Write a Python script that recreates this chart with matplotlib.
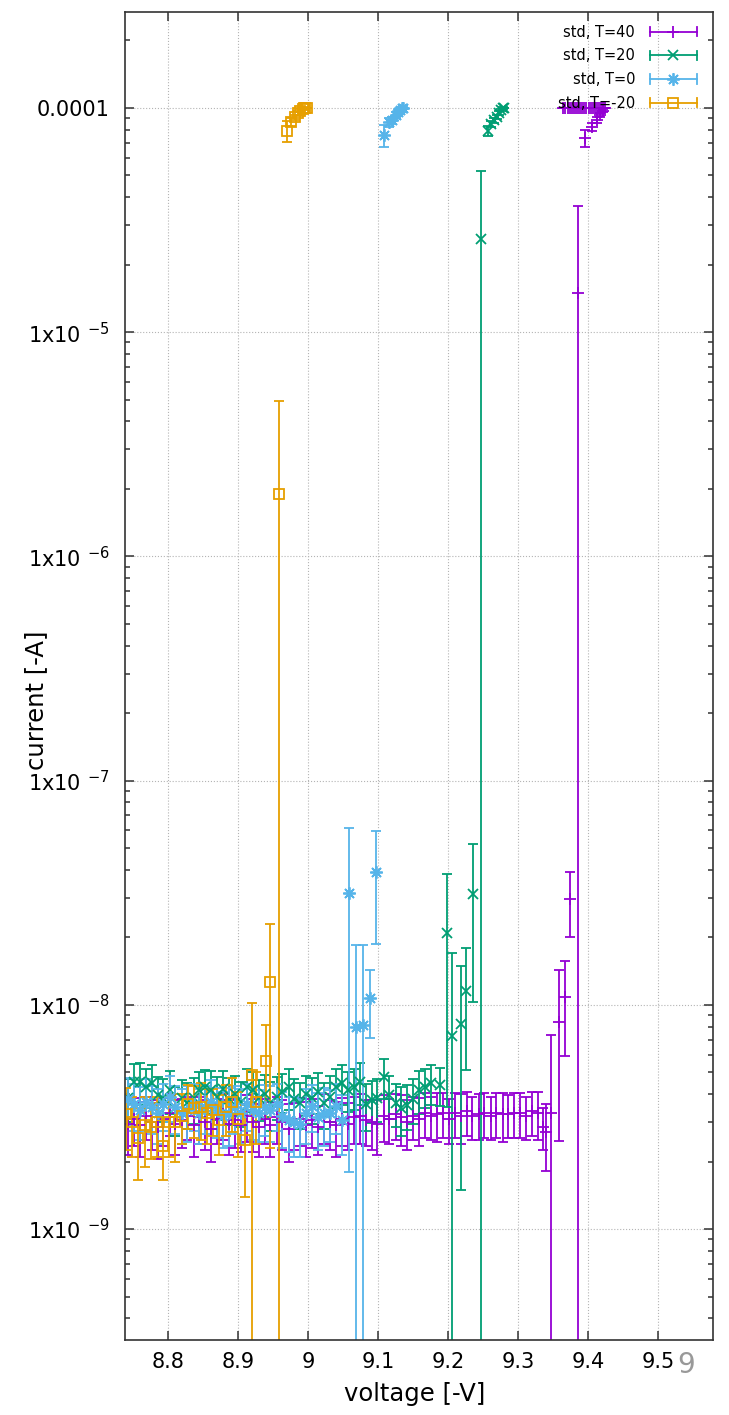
import numpy as np
import matplotlib
matplotlib.use('Agg')
import matplotlib.pyplot as plt
from matplotlib.lines import Line2D
from matplotlib.legend_handler import HandlerBase
from matplotlib.ticker import FixedLocator, LogLocator, NullFormatter, NullLocator

# voltage [-V] and current [nA], dy = std

# T=40
x40_base = [8.742, 8.751, 8.759, 8.768, 8.776, 8.785, 8.793, 8.802, 8.810, 8.819,
            8.827, 8.836, 8.844, 8.853, 8.861, 8.870, 8.878, 8.887, 8.895, 8.904,
            8.912, 8.921, 8.929, 8.938, 8.946, 8.955, 8.963, 8.972, 8.980, 8.989,
            8.997, 9.006, 9.014, 9.023, 9.031, 9.040, 9.048, 9.057, 9.065, 9.074,
            9.082, 9.091, 9.099, 9.108, 9.116, 9.125, 9.133, 9.142, 9.150, 9.159,
            9.167, 9.176, 9.184, 9.193, 9.201, 9.210, 9.218, 9.227, 9.235, 9.244,
            9.252, 9.261, 9.269, 9.278, 9.286, 9.295, 9.303, 9.312, 9.320, 9.329]
y40_base = [2.95, 3.10, 2.90, 3.20, 3.00, 2.85, 3.10, 3.30, 2.95, 3.05,
            3.20, 2.90, 3.15, 3.00, 2.80, 3.10, 3.25, 2.95, 3.05, 2.90,
            3.20, 3.00, 2.85, 3.10, 2.90, 3.15, 3.00, 2.80, 2.95, 3.10,
            2.90, 3.05, 2.85, 3.20, 3.00, 2.90, 3.10, 2.95, 3.15, 3.20,
            3.05, 3.00, 2.95, 3.20, 3.10, 3.25, 3.15, 3.00, 3.20, 3.10,
            3.30, 3.20, 3.25, 3.30, 3.10, 3.30, 3.20, 3.35, 3.20, 3.25,
            3.30, 3.20, 3.30, 3.25, 3.25, 3.30, 3.30, 3.20, 3.35, 3.30]
dy40_base = [0.80, 0.75, 0.80, 0.70, 0.75, 0.80, 0.75, 0.70, 0.80, 0.75,
             0.70, 0.80, 0.75, 0.75, 0.80, 0.70, 0.75, 0.80, 0.75, 0.70,
             0.75, 0.80, 0.75, 0.70, 0.80, 0.75, 0.75, 0.80, 0.70, 0.75,
             0.80, 0.75, 0.70, 0.80, 0.75, 0.80, 0.75, 0.70, 0.75, 0.80,
             0.70, 0.75, 0.80, 0.75, 0.70, 0.75, 0.80, 0.75, 0.70, 0.75,
             0.75, 0.70, 0.80, 0.75, 0.70, 0.75, 0.80, 0.75, 0.70, 0.75,
             0.75, 0.70, 0.75, 0.80, 0.70, 0.75, 0.75, 0.70, 0.75, 0.80]
x40_rise = [9.336, 9.340, 9.347, 9.359, 9.367, 9.375, 9.386, 9.396, 9.406, 9.413, 9.417, 9.421]
y40_rise = [2.85, 2.71, 3.3, 8.37, 10.8, 29.6, 15000, 73500, 82300, 88400, 93000, 97000]
dy40_rise = [0.6, 0.9, 4.0, 5.9, 4.9, 9.5, 21600, 6500, 3500, 2500, 2000, 1500]
x40_top = [9.365, 9.368, 9.371, 9.374, 9.377, 9.380, 9.383, 9.386, 9.389, 9.392, 9.395,
           9.398, 9.401, 9.404, 9.407, 9.410, 9.413, 9.416, 9.419, 9.422, 9.425]
y40_top = [100000] * 21
dy40_top = [300] * 21

# T=20
x20_base = [8.742, 8.751, 8.759, 8.768, 8.776, 8.785, 8.793, 8.802, 8.810, 8.819,
            8.827, 8.836, 8.844, 8.853, 8.861, 8.870, 8.878, 8.887, 8.895, 8.904,
            8.912, 8.921, 8.929, 8.938, 8.946, 8.955, 8.963, 8.972, 8.980, 8.989,
            8.997, 9.006, 9.014, 9.023, 9.031, 9.040, 9.048, 9.057, 9.065, 9.074,
            9.082, 9.091, 9.099, 9.108, 9.116, 9.125, 9.133, 9.142, 9.150, 9.159,
            9.167, 9.176, 9.188]
y20_base = [3.84, 4.53, 4.53, 4.30, 4.48, 3.96, 3.84, 4.17, 3.46, 3.84,
            3.65, 3.84, 4.17, 4.30, 4.17, 3.90, 4.20, 3.80, 4.00, 3.70,
            4.30, 4.17, 3.84, 4.00, 3.65, 3.90, 4.10, 4.30, 3.80, 3.65,
            4.00, 3.84, 4.10, 3.65, 3.90, 4.30, 4.48, 4.17, 4.30, 4.53,
            3.60, 3.76, 3.84, 4.77, 3.96, 3.65, 3.46, 3.57, 3.80, 4.17,
            4.30, 4.48, 4.40]
dy20_base = [0.85, 0.90, 0.95, 0.85, 0.90, 0.80, 0.85, 0.90, 0.85, 0.80,
             0.85, 0.90, 0.85, 0.80, 0.90, 0.85, 0.85, 0.90, 0.80, 0.85,
             0.90, 0.85, 0.80, 0.85, 0.90, 0.85, 0.80, 0.90, 0.85, 0.85,
             0.80, 0.90, 0.85, 0.85, 0.90, 0.85, 0.90, 0.85, 0.90, 0.95,
             0.85, 0.80, 0.85, 0.95, 0.85, 0.80, 0.85, 0.80, 0.85, 0.90,
             0.85, 0.90, 0.85]
x20_rise = [9.198, 9.205, 9.218, 9.226, 9.236, 9.247]
y20_rise = [20.9, 7.26, 8.2, 11.5, 31.2, 26000]
dy20_rise = [17.4, 9.8, 6.7, 6.4, 20.9, 26500]
x20_top = [9.257, 9.262, 9.266, 9.270, 9.273, 9.276, 9.278, 9.280]
y20_top = [79000, 85000, 88000, 91000, 95000, 98000, 100000, 100000]
dy20_top = [4000, 2500, 2000, 2000, 1500, 1000, 800, 500]

# T=0
x0_base = [8.742, 8.751, 8.759, 8.768, 8.776, 8.785, 8.793, 8.802, 8.810, 8.819,
           8.827, 8.836, 8.844, 8.853, 8.861, 8.870, 8.878, 8.887, 8.895, 8.904,
           8.912, 8.921, 8.929, 8.938, 8.946, 8.955, 8.963, 8.972, 8.980, 8.989,
           8.997, 9.006, 9.014, 9.023, 9.031, 9.040, 9.048]
y0_base = [3.80, 3.60, 3.40, 3.70, 3.50, 3.30, 3.60, 3.90, 3.50, 3.30,
           3.40, 3.60, 3.30, 3.50, 3.70, 3.40, 3.20, 3.30, 3.50, 3.30,
           3.60, 3.40, 3.30, 3.50, 3.40, 3.60, 3.20, 3.05, 3.00, 2.95,
           3.30, 3.55, 3.15, 3.30, 3.30, 3.55, 3.05]
dy0_base = [0.90, 0.85, 0.90, 0.95, 0.85, 0.90, 0.85, 0.90, 0.85, 0.90,
            0.95, 0.85, 0.90, 0.85, 0.90, 0.85, 0.90, 0.95, 0.85, 0.90,
            0.85, 0.90, 0.85, 0.90, 0.95, 0.85, 0.90, 0.85, 0.90, 0.85,
            0.90, 0.85, 0.90, 0.95, 0.85, 0.90, 0.90]
x0_rise = [9.058, 9.069, 9.078, 9.088, 9.097]
y0_rise = [31.5, 7.96, 8.1, 10.7, 39.1]
dy0_rise = [29.7, 10.5, 10.4, 3.6, 20.5]
x0_top = [9.108, 9.116, 9.120, 9.125, 9.129, 9.132, 9.134, 9.136]
y0_top = [75800, 86600, 88000, 93000, 96000, 98000, 100000, 100000]
dy0_top = [8600, 4000, 3500, 3000, 2000, 1500, 1000, 800]

# T=-20
xm20_base = [8.740, 8.748, 8.757, 8.766, 8.775, 8.784, 8.793, 8.801, 8.810, 8.819,
             8.828, 8.837, 8.846, 8.855, 8.864, 8.873, 8.882, 8.891, 8.899, 8.909]
ym20_base = [3.26, 3.00, 2.55, 2.90, 2.85, 3.00, 2.35, 3.00, 3.00, 3.20,
             3.60, 3.45, 3.50, 3.30, 3.40, 3.05, 3.50, 3.70, 3.10, 2.49]
dym20_base = [1.0, 0.9, 0.9, 1.0, 0.8, 0.9, 0.7, 0.9, 1.0, 0.8,
              0.8, 0.9, 1.0, 0.9, 0.8, 0.9, 0.9, 1.0, 1.0, 1.1]
xm20_rise = [8.920, 8.926, 8.939, 8.946, 8.958]
ym20_rise = [4.86, 3.7, 5.6, 12.6, 1900]
dym20_rise = [5.3, 1.3, 2.5, 10.3, 3030]
xm20_top = [8.969, 8.976, 8.981, 8.986, 8.989, 8.992, 8.994, 8.996, 8.998]
ym20_top = [79000, 86500, 91000, 95000, 97000, 98500, 99500, 100000, 100000]
dym20_top = [8500, 3500, 2500, 2000, 1500, 1000, 800, 600, 500]

labels = ['std, T=40', 'std, T=20', 'std, T=0', 'std, T=-20']
colors = ['#9400d3', '#009e73', '#56b4e9', '#e69f00']
markers = ['+', 'x', (8, 2, 0), 's']
msizes = [8, 7.5, 9, 7.5]

series = [
    (x40_base + x40_rise + x40_top, y40_base + y40_rise + y40_top, dy40_base + dy40_rise + dy40_top),
    (x20_base + x20_rise + x20_top, y20_base + y20_rise + y20_top, dy20_base + dy20_rise + dy20_top),
    (x0_base + x0_rise + x0_top, y0_base + y0_rise + y0_top, dy0_base + dy0_rise + dy0_top),
    (xm20_base + xm20_rise + xm20_top, ym20_base + ym20_rise + ym20_top, dym20_base + dym20_rise + dym20_top),
]

ytick_vals = [1e-9, 1e-8, 1e-7, 1e-6, 1e-5, 1e-4]
ytick_labels = [r'1x10 $^{\mathregular{-9}}$', r'1x10 $^{\mathregular{-8}}$', r'1x10 $^{\mathregular{-7}}$',
                r'1x10 $^{\mathregular{-6}}$', r'1x10 $^{\mathregular{-5}}$', '0.0001']
xtick_vals = [8.8, 8.9, 9.0, 9.1, 9.2, 9.3, 9.4, 9.5]
xtick_labels = ['8.8', '8.9', '9', '9.1', '9.2', '9.3', '9.4', '9.5']


class ErrHandler(HandlerBase):
    # gnuplot style key sample: horizontal bar with end caps, point in the middle
    def create_artists(self, legend, orig, xdescent, ydescent, width, height, fontsize, trans):
        c = orig.get_color()
        y = height / 2 - ydescent
        x0, x1 = -xdescent, width - xdescent
        h = 0.32 * fontsize
        bar = Line2D([x0, x1], [y, y], color=c, lw=1.3)
        caps = Line2D([x0, x0, np.nan, x1, x1], [y - h, y + h, np.nan, y - h, y + h], color=c, lw=1.3)
        pt = Line2D([(x0 + x1) / 2], [y], ls='none', marker=orig.get_marker(), color=c,
                    mfc=orig.get_markerfacecolor(), ms=orig.get_markersize(), mew=1.3)
        for a in (bar, caps, pt):
            a.set_transform(trans)
        return [bar, caps, pt]


plt.rcParams['font.family'] = ['DejaVu Sans']
plt.rcParams['mathtext.fontset'] = 'dejavusans'

fig = plt.figure(figsize=(7.29, 14.15), dpi=100)
ax = fig.add_axes([125 / 729, 1 - 1340 / 1415, 588 / 729, 1328 / 1415])
ax.set_yscale('log')

handles = []
for (x, y, dy), lab, c, m, ms in zip(series, labels, colors, markers, msizes):
    mfc = 'none' if m == 's' else c
    ax.errorbar(np.array(x), np.array(y) * 1e-9, yerr=np.array(dy) * 1e-9,
                marker=m, linestyle='none', color=c, mfc=mfc, ms=ms, mew=1.3,
                elinewidth=1.3, capsize=3.6, capthick=1.3)
    handles.append(Line2D([], [], color=c, marker=m, mfc=mfc, ms=ms))

ax.set_xlim(8.738, 9.579)
ax.set_ylim(3.2e-10, 2.68e-4)

ax.xaxis.set_major_locator(FixedLocator(xtick_vals))
ax.set_xticklabels(xtick_labels)
ax.xaxis.set_minor_locator(NullLocator())
ax.yaxis.set_major_locator(FixedLocator(ytick_vals))
ax.set_yticklabels(ytick_labels)
ax.yaxis.set_minor_locator(LogLocator(base=10, subs=range(2, 10)))
ax.yaxis.set_minor_formatter(NullFormatter())

ax.tick_params(which='both', direction='in', top=True, right=True, width=1.1, color='#333333')
ax.tick_params(which='major', length=6.5, labelsize=15)
ax.tick_params(which='minor', length=3.5)
ax.tick_params(axis='x', pad=9)
ax.tick_params(axis='y', pad=11)
for s in ax.spines.values():
    s.set_linewidth(1.2)
    s.set_color('#333333')

ax.grid(True, which='major', color='#b4b4b4', linestyle=':', linewidth=0.8)
ax.set_axisbelow(True)

ax.set_xlabel('voltage [-V]', fontsize=17.5)
ax.set_ylabel('current [-A]', fontsize=17.5)
ax.xaxis.set_label_coords(0.493, -0.032)
ax.yaxis.set_label_coords(-0.13, 0.482)

ax.legend(handles, labels, handler_map={Line2D: ErrHandler()}, loc='upper right',
          bbox_to_anchor=(0.9728, 0.9905), frameon=False, markerfirst=False,
          fontsize=10.5, handlelength=3.25, handletextpad=1.0, labelspacing=0.6,
          borderpad=0, borderaxespad=0)

fig.text(686 / 729, 1 - 1365 / 1415, '9', color='#999999', fontsize=20, ha='center', va='center')

fig.savefig('out.png', dpi=100)
